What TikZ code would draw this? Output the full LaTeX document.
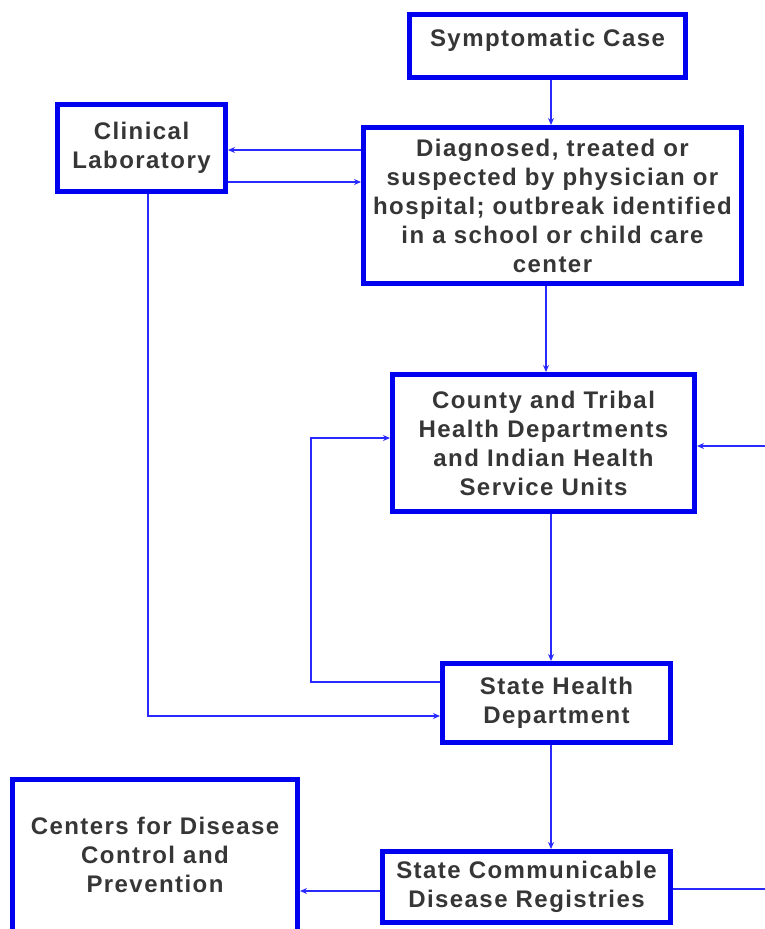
\documentclass[tikz,border=0pt]{standalone}
\usepackage{fontspec}
\setmainfont{Liberation Sans}[LetterSpace=6]
\usetikzlibrary{arrows.meta}
\definecolor{boxblue}{HTML}{0000F0}
\definecolor{lineblue}{HTML}{2A2AFF}
\definecolor{txt}{HTML}{363636}
\begin{document}
\begin{tikzpicture}[x=1pt,y=-1pt,
  box/.style={draw=boxblue,line width=5pt,fill=white,text=txt,align=center,inner sep=0pt,
    font=\fontsize{24}{29}\selectfont\bfseries},
  conn/.style={draw=lineblue,line width=1.5pt},
  arr/.style={conn,-{Stealth[length=7pt,width=6pt]}}]
\useasboundingbox (0,0) rectangle (764,929);
\fill[white] (0,0) rectangle (764,929);
\node[box,minimum width=276pt,minimum height=63pt,text depth=16pt] (sym) at (547.5,46) {Symptomatic Case};
\node[box,minimum width=168pt,minimum height=87pt] (lab) at (141.5,148) {Clinical\\Laboratory};
\node[box,minimum width=378pt,minimum height=156pt] (diag) at (552.5,205.5) {Diagnosed, treated or\\suspected by physician or\\hospital; outbreak identified\\in a school or child care\\center};
\node[box,minimum width=285pt,minimum height=166pt,text depth=14pt] (cdc) at (155,862) {Centers for Disease\\Control and\\Prevention};
\node[box,minimum width=302pt,minimum height=137pt] (county) at (543.5,443) {County and Tribal\\Health Departments\\and Indian Health\\Service Units};
\node[box,minimum width=228pt,minimum height=79pt] (shd) at (556.5,703) {State Health\\Department};
\node[box,minimum width=288pt,minimum height=71pt] (reg) at (526.5,887) {State Communicable\\Disease Registries};
\coordinate (rin) at (780,446);
\coordinate (rout) at (780,889);
\coordinate (labdown) at (148,716);
\coordinate (shdleft) at (311,682);
\coordinate (cntleft) at (311,438);
% connectors
\draw[arr] (sym.south -| 551,0) -- (diag.north -| 551,0);
\draw[arr] (diag.west |- 0,150) -- (lab.east |- 0,150);
\draw[arr] (lab.east |- 0,182) -- (diag.west |- 0,182);
\draw[arr] (lab.south -| 148,0) -- (labdown) -- (shd.west |- labdown);
\draw[arr] (diag.south -| 546,0) -- (county.north -| 546,0);
\draw[arr] (shd.west |- shdleft) -- (shdleft) -- (cntleft) -- (county.west |- cntleft);
\draw[arr] (county.south -| 551,0) -- (shd.north -| 551,0);
\draw[arr] (shd.south -| 551,0) -- (reg.north -| 551,0);
\draw[arr] (reg.west |- 0,891) -- (cdc.east |- 0,891);
\draw[conn] (reg.east |- rout) -- (rout);
\draw[arr] (rin) -- (county.east |- rin);
\end{tikzpicture}
\end{document}
